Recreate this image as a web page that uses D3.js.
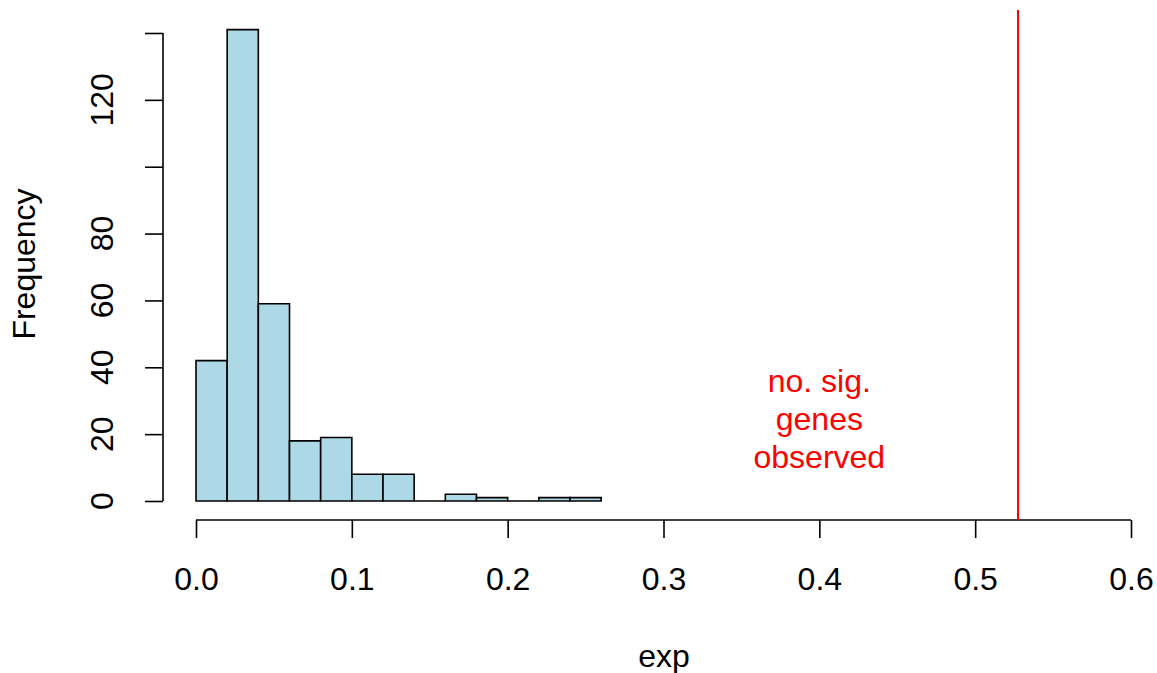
<!DOCTYPE html>
<html>
<head>
<meta charset="utf-8">
<script src="https://cdn.jsdelivr.net/npm/d3@7"></script>
<style>
  body { margin: 0; background: #fff; }
  text { font-family: "Liberation Sans", Arial, sans-serif; }
</style>
</head>
<body>
<svg id="chart" width="1157" height="673"></svg>
<script>
// bin edges (start of each 0.02-wide bin) and counts
const binStarts = [0, 0.02, 0.04, 0.06, 0.08, 0.1, 0.12, 0.14, 0.16, 0.18, 0.2, 0.22, 0.24];
const counts = [42, 141, 59, 18, 19, 8, 8, 0, 2, 1, 0, 1, 1];
const binWidth = 0.02;
const xTicks = [0, 0.1, 0.2, 0.3, 0.4, 0.5, 0.6];
const yTicks = [0, 20, 40, 60, 80, 100, 120, 140];
const yLabels = [0, 20, 40, 60, 80, 120];
const observed = 0.5275;
const noteLines = ["no. sig.", "genes", "observed"];

const fontSize = 32;
const svg = d3.select("#chart");

const x = d3.scaleLinear().domain([0, 0.6]).range([196, 1131]);
const y = d3.scaleLinear().domain([0, 140]).range([501, 33]);

// bars (drawn as paths so empty bins still show their baseline)
svg.selectAll("path.bar")
  .data(binStarts)
  .enter()
  .append("path")
  .attr("class", "bar")
  .attr("d", (d, i) => {
    const x0 = x(d), x1 = x(d + binWidth), y0 = y(0), y1 = y(counts[i]);
    return `M${x0},${y0}V${y1}H${x1}V${y0}Z`;
  })
  .attr("fill", "#add8e6")
  .attr("stroke", "black")
  .attr("stroke-width", 1.6);

// x axis
const xAxis = svg.append("g")
  .attr("transform", "translate(0,520)")
  .call(d3.axisBottom(x).tickValues(xTicks).tickFormat(d3.format(".1f")).tickSize(18).tickPadding(0))
  .call((g) => g.select(".domain").attr("d", `M${x(0)},0H${x(0.6)}`));
xAxis.selectAll("line, path").attr("stroke", "black").attr("stroke-width", 1.6);
xAxis.selectAll("text")
  .attr("y", 70)
  .attr("dy", null)
  .attr("font-size", fontSize)
  .attr("fill", "black")
  .attr("font-family", "Liberation Sans, Arial, sans-serif");

// y axis
const yAxis = svg.append("g")
  .attr("transform", "translate(163,0)")
  .call(d3.axisLeft(y).tickValues(yTicks).tickFormat("").tickSize(18))
  .call((g) => g.select(".domain").attr("d", `M0,${y(0)}V${y(140)}`));
yAxis.selectAll("line, path").attr("stroke", "black").attr("stroke-width", 1.6);

svg.selectAll("text.ylab")
  .data(yLabels)
  .enter()
  .append("text")
  .attr("class", "ylab")
  .attr("transform", (d) => `translate(113,${y(d)}) rotate(-90)`)
  .attr("text-anchor", "middle")
  .attr("font-size", fontSize)
  .text((d) => d);

// axis titles
svg.append("text")
  .attr("x", 664)
  .attr("y", 667)
  .attr("text-anchor", "middle")
  .attr("font-size", fontSize)
  .text("exp");

svg.append("text")
  .attr("transform", "translate(35,264) rotate(-90)")
  .attr("text-anchor", "middle")
  .attr("font-size", fontSize)
  .text("Frequency");

// observed line
svg.append("line")
  .attr("x1", x(observed))
  .attr("x2", x(observed))
  .attr("y1", 10)
  .attr("y2", 520)
  .attr("stroke", "red")
  .attr("stroke-width", 2);

svg.selectAll("text.note")
  .data(noteLines)
  .enter()
  .append("text")
  .attr("class", "note")
  .attr("x", x(0.4))
  .attr("y", (d, i) => 392 + i * 38)
  .attr("text-anchor", "middle")
  .attr("font-size", fontSize)
  .attr("fill", "red")
  .text((d) => d);
</script>
</body>
</html>
